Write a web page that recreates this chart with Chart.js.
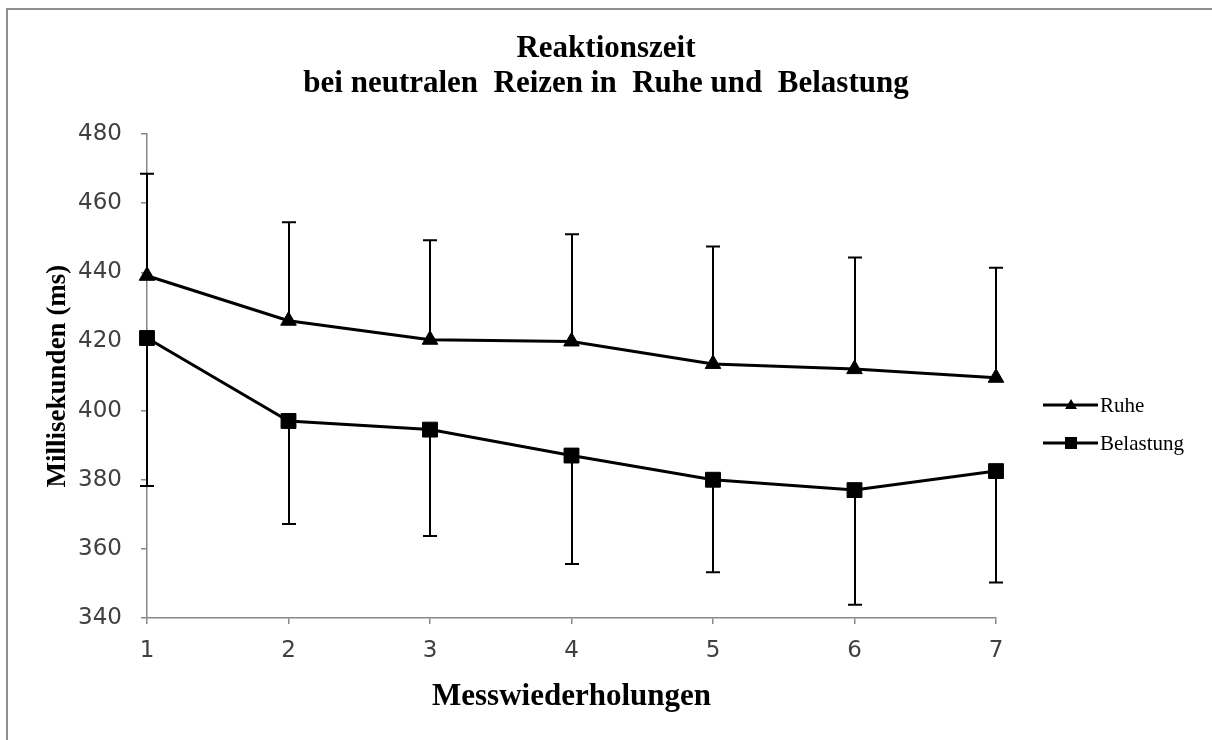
<!DOCTYPE html>
<html>
<head>
<meta charset="utf-8">
<script src="https://cdn.jsdelivr.net/npm/chart.js@4/dist/chart.umd.min.js"></script>
<style>
  body { margin: 0; background: #fff; }
  #wrap { position: relative; width: 1212px; height: 740px; overflow: hidden; }
  #frame { position: absolute; left: 6px; top: 8px; width: 1300px; height: 800px;
           border-left: 2px solid #909090; border-top: 2px solid #909090; }
  canvas { position: absolute; left: 0; top: 0; }
</style>
</head>
<body>
<div id="wrap">
  <div id="frame"></div>
  <canvas id="myChart" width="1212" height="740"></canvas>
</div>
<script>
// Messwiederholungen
var labels = ['1', '2', '3', '4', '5', '6', '7'];
// Mittelwerte (ms)
var ruhe = [439, 426, 420.5, 420, 413.5, 412, 409.5];
var belastung = [421, 397, 394.5, 387, 380, 377, 382.5];
// Standardabweichungen (ms)
var ruhe_sd = [29.5, 28.5, 28.8, 31, 34, 32.3, 31.8];
var belastung_sd = [42.8, 29.8, 30.8, 31.4, 26.8, 33.2, 32.2];

var serif = '"Liberation Serif", "Times New Roman", serif';

// Fehlerbalken: Ruhe nach oben, Belastung nach unten
const errorBars = {
    id: 'errorBars',
    beforeDatasetsDraw(chart) {
        const c = chart.ctx;
        const x = chart.scales.x;
        const y = chart.scales.y;
        const sets = [[ruhe, ruhe_sd, 1], [belastung, belastung_sd, -1]];
        c.save();
        c.strokeStyle = '#000';
        c.lineWidth = 2;
        sets.forEach(function (s) {
            for (let i = 0; i < s[0].length; i++) {
                const px = Math.round(x.getPixelForValue(i));
                const y0 = y.getPixelForValue(s[0][i]);
                const y1 = y.getPixelForValue(s[0][i] + s[2] * s[1][i]);
                c.beginPath();
                c.moveTo(px, y0);
                c.lineTo(px, y1);
                c.moveTo(px - 7, y1);
                c.lineTo(px + 7, y1);
                c.stroke();
            }
        });
        c.restore();
    }
};

// Legende rechts
const sideLegend = {
    id: 'sideLegend',
    afterDraw(chart) {
        const c = chart.ctx;
        const rows = [405, 443];
        c.save();
        chart.data.datasets.forEach(function (ds, i) {
            const yy = rows[i];
            c.strokeStyle = '#000';
            c.lineWidth = 3;
            c.beginPath();
            c.moveTo(1043, yy);
            c.lineTo(1098, yy);
            c.stroke();
            c.fillStyle = '#000';
            c.beginPath();
            if (ds.pointStyle === 'triangle') {
                c.moveTo(1071, yy - 6);
                c.lineTo(1077, yy + 4);
                c.lineTo(1065, yy + 4);
                c.closePath();
            } else {
                c.rect(1065, yy - 6, 12, 12);
            }
            c.fill();
            c.font = '21px ' + serif;
            c.textBaseline = 'middle';
            c.textAlign = 'left';
            c.fillText(ds.label, 1100, yy + 1);
        });
        c.restore();
    }
};

const ctx = document.getElementById('myChart');

let chart = new Chart(ctx, {
    type: 'line',
    data: {
        labels: labels,
        datasets: [{
            label: 'Ruhe',
            data: ruhe,
            borderColor: '#000',
            backgroundColor: '#000',
            borderWidth: 3,
            pointStyle: 'triangle',
            pointRadius: 9,
            pointBorderWidth: 1,
            tension: 0
        }, {
            label: 'Belastung',
            data: belastung,
            borderColor: '#000',
            backgroundColor: '#000',
            borderWidth: 3,
            pointStyle: 'rect',
            pointRadius: 10.5,
            pointBorderWidth: 1,
            tension: 0
        }]
    },
    options: {
        responsive: false,
        animation: false,
        layout: { padding: 0 },
        plugins: {
            legend: { display: false },
            tooltip: { enabled: false },
            title: {
                display: true,
                text: ['Reaktionszeit', 'bei neutralen  Reizen in  Ruhe und  Belastung'],
                color: '#000',
                font: { family: serif, size: 31, weight: 'bold', lineHeight: 1.13 },
                padding: { top: 31, bottom: 33 }
            }
        },
        scales: {
            x: {
                offset: false,
                afterFit: function (s) { s.height = 122; },
                grid: { display: true, drawOnChartArea: false, drawTicks: true, tickLength: 6, color: '#888', lineWidth: 1.5 },
                border: { display: true, color: '#888', width: 1.5 },
                ticks: { color: '#404040', padding: 13, font: { family: '"DejaVu Sans"', size: 23 } },
                title: {
                    display: true,
                    text: 'Messwiederholungen',
                    color: '#000',
                    font: { family: serif, size: 31, weight: 'bold', lineHeight: 1.2 },
                    padding: { top: 0, bottom: 24 }
                }
            },
            y: {
                min: 340,
                max: 480,
                afterFit: function (s) { s.width = 147; },
                grid: { display: true, drawOnChartArea: false, drawTicks: true, tickLength: 6, color: '#888', lineWidth: 1.5 },
                border: { display: true, color: '#888', width: 1.5 },
                ticks: { stepSize: 20, color: '#404040', padding: 19, font: { family: '"DejaVu Sans"', size: 23 } },
                title: {
                    display: true,
                    text: 'Millisekunden (ms)',
                    color: '#000',
                    font: { family: serif, size: 27, weight: 'bold', lineHeight: 1.2 },
                    padding: { top: 42, bottom: 0 }
                }
            },
            // leerer Platz rechts fuer die Legende
            side: {
                type: 'linear',
                position: 'right',
                min: 340,
                max: 480,
                afterFit: function (s) { s.width = 216; },
                grid: { display: false },
                border: { display: false },
                ticks: { display: false }
            }
        }
    },
    plugins: [errorBars, sideLegend]
});
</script>
</body>
</html>
